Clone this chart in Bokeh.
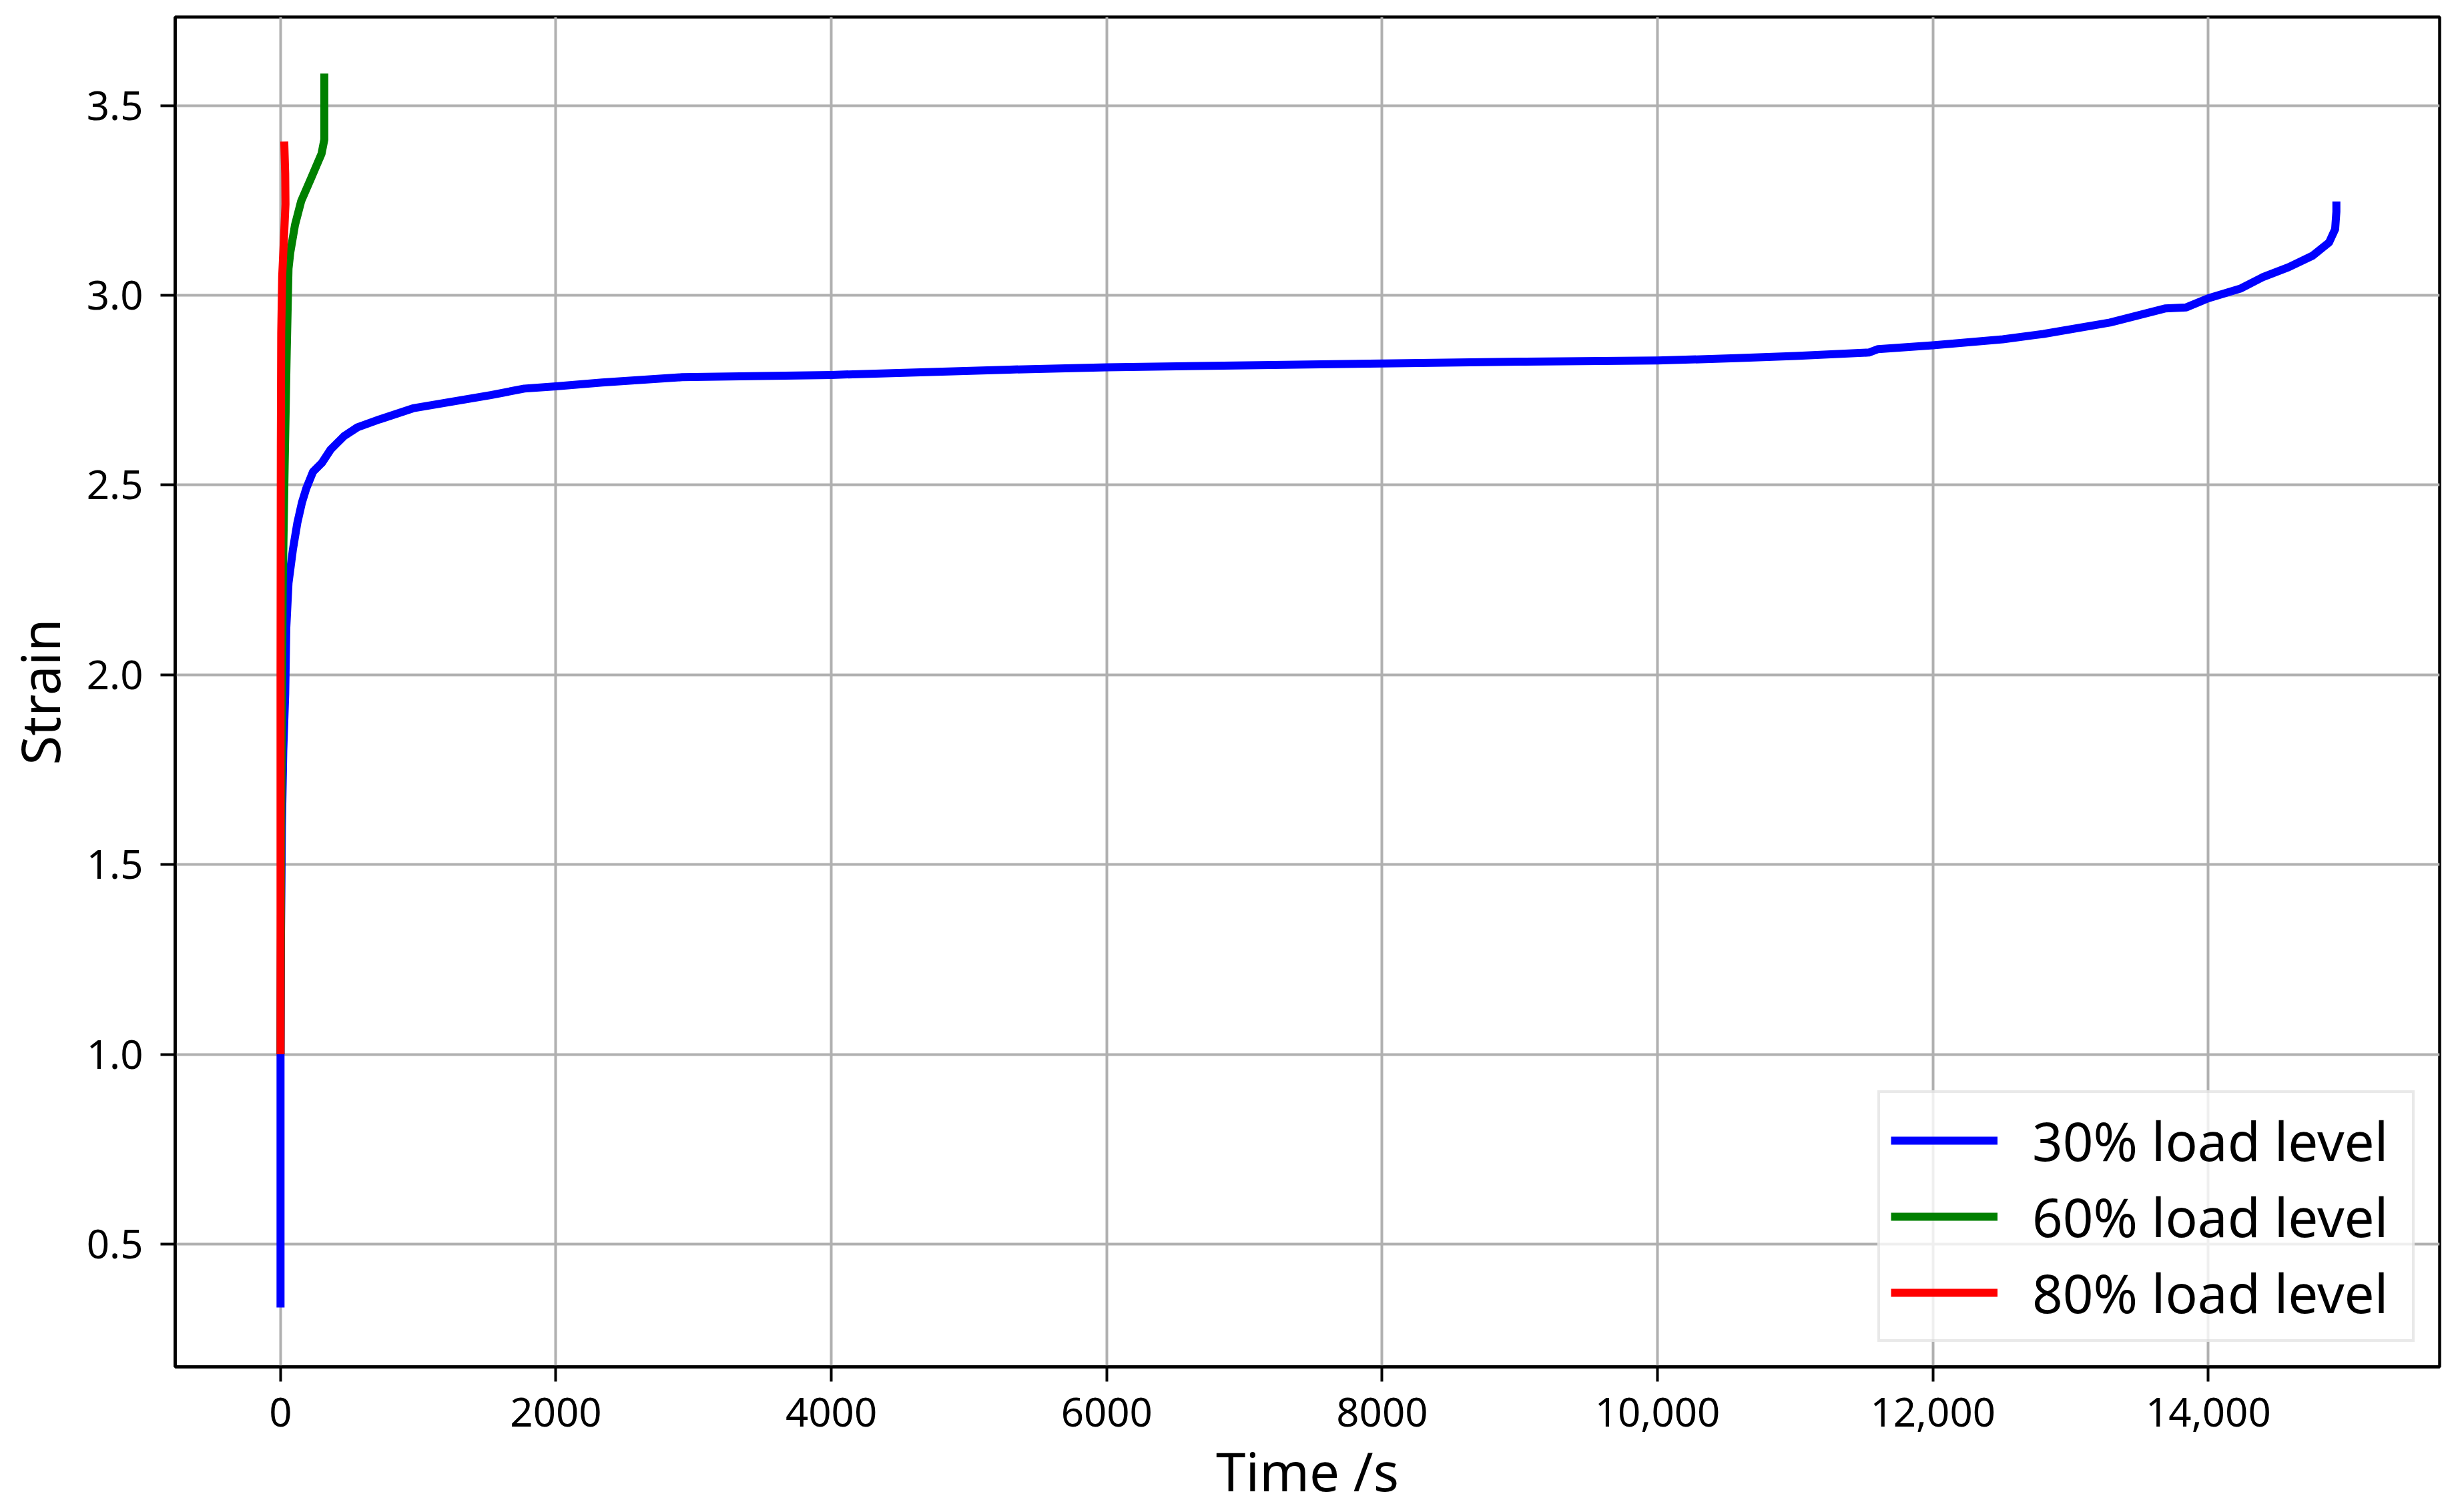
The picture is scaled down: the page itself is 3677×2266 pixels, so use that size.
from bokeh.plotting import figure
from bokeh.models import FixedTicker, Range1d, Legend
from bokeh.embed import file_html
from bokeh.resources import INLINE

# ---- data ----
t30 = [0, 0, 3, 10, 20, 34, 42, 58, 90, 122, 155, 187, 236, 300, 365, 462, 559, 720,
       962, 1205, 1527, 1770, 2000, 2335, 2916, 4000, 5295, 6000, 8000, 9000, 10000,
       10570, 11000, 11535, 11602, 12000, 12508, 12802, 13286, 13685, 13840, 14000,
       14237, 14392, 14584, 14757, 14877, 14921, 14930, 14930]
s30 = [0.333, 1.0, 1.3, 1.6, 1.8, 1.949, 2.124, 2.242, 2.330, 2.40, 2.453, 2.491, 2.535,
       2.558, 2.594, 2.629, 2.652, 2.673, 2.702, 2.717, 2.737, 2.754, 2.760, 2.770, 2.784,
       2.790, 2.804, 2.810, 2.820, 2.825, 2.828, 2.834, 2.840, 2.849, 2.858, 2.868, 2.884,
       2.898, 2.928, 2.965, 2.968, 2.992, 3.018, 3.047, 3.074, 3.104, 3.139, 3.174, 3.22,
       3.247]

t60 = [0, 5, 10, 16, 30, 45, 58, 71, 105, 150, 224, 298, 318, 318]
s60 = [1.0, 1.6, 1.9, 2.23, 2.55, 2.85, 3.07, 3.113, 3.185, 3.248, 3.31, 3.373, 3.41, 3.584]

t80 = [0, 0, 2, 5, 12, 25, 36, 34, 27]
s80 = [1.0, 2.0, 2.6, 2.9, 3.05, 3.15, 3.24, 3.32, 3.405]

series_labels = ["30% load level", "60% load level", "80% load level"]
series_colors = ["#0000ff", "#008000", "#ff0000"]

x_ticks = [0, 2000, 4000, 6000, 8000, 10000, 12000, 14000]
x_tick_labels = ["0", "2000", "4000", "6000", "8000", "10,000", "12,000", "14,000"]
y_ticks = [0.5, 1.0, 1.5, 2.0, 2.5, 3.0, 3.5]
y_tick_labels = ["0.5", "1.0", "1.5", "2.0", "2.5", "3.0", "3.5"]

x_label = "Time /s"
y_label = "Strain"

FONT = "Noto Sans"

W, H = 3672, 2264
LEFT, TOP, RIGHT, BOTTOM = 260, 25, 3655, 2048

p = figure(width=W, height=H, output_backend="svg", toolbar_location=None,
           x_range=Range1d(-765, 15680), y_range=Range1d(0.1765, 3.733),
           min_border_left=LEFT, min_border_right=W - RIGHT, min_border_top=TOP,
           min_border_bottom=H - BOTTOM)

p.background_fill_color = "white"
p.border_fill_color = "white"
p.outline_line_color = "black"
p.outline_line_width = 4.5

renderers = []
for xs, ys, c in zip([t30, t60, t80], [s30, s60, s80], series_colors):
    r = p.line(xs, ys, line_color=c, line_width=12, line_join="round")
    renderers.append(r)

legend = Legend(items=[(lab, [r]) for lab, r in zip(series_labels, renderers)],
                location="bottom_right")
legend.margin = 37
legend.padding = 16
legend.spacing = 5
legend.glyph_width = 160
legend.glyph_height = 100
legend.label_height = 100
legend.label_width = 553
legend.label_standoff = 52
legend.label_text_font = FONT
legend.label_text_font_size = "80px"
legend.label_text_color = "black"
legend.border_line_color = "#d4d4d4"
legend.border_line_width = 4
legend.background_fill_color = "white"
legend.background_fill_alpha = 0.8
p.add_layout(legend)

for ax in (p.xaxis[0], p.yaxis[0]):
    ax.axis_line_color = "black"
    ax.axis_line_width = 4.5
    ax.major_tick_line_color = "black"
    ax.major_tick_line_width = 4
    ax.major_tick_out = 22
    ax.major_tick_in = 0
    ax.minor_tick_line_color = None
    ax.major_label_text_font = FONT
    ax.major_label_text_font_size = "60px"
    ax.major_label_text_color = "black"
    ax.axis_label_text_font = FONT
    ax.axis_label_text_font_size = "80px"
    ax.axis_label_text_font_style = "normal"
    ax.axis_label_text_color = "black"

p.xaxis[0].ticker = FixedTicker(ticks=x_ticks)
p.xaxis[0].major_label_overrides = {t: l for t, l in zip(x_ticks, x_tick_labels)}
p.yaxis[0].ticker = FixedTicker(ticks=y_ticks)
p.yaxis[0].major_label_overrides = {t: l for t, l in zip(y_ticks, y_tick_labels)}
p.xaxis[0].axis_label = x_label
p.yaxis[0].axis_label = y_label
p.xaxis[0].major_label_standoff = 24
p.yaxis[0].major_label_standoff = 26
p.xaxis[0].axis_label_standoff = 8
p.yaxis[0].axis_label_standoff = 14

for g in (p.xgrid[0], p.ygrid[0]):
    g.grid_line_color = "#b0b0b0"
    g.grid_line_width = 4

open("out.html", "w").write(file_html(p, INLINE))
